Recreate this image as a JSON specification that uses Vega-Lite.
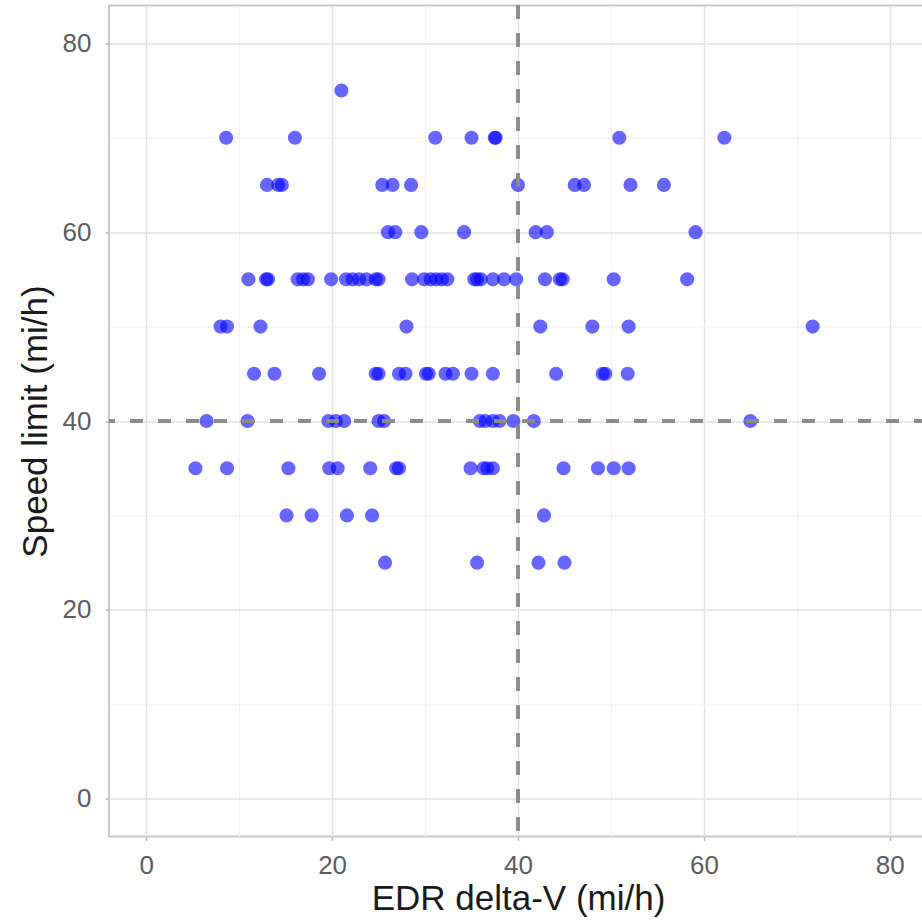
{
  "$schema": "https://vega.github.io/schema/vega-lite/v6.json",
  "width": 818,
  "height": 831,
  "autosize": "none",
  "padding": {"left": 109, "top": 5.5, "right": 0, "bottom": 87},
  "background": "white",
  "config": {
    "view": {"stroke": "#c8c8c8", "strokeWidth": 2},
    "axis": {
      "labelFont": "Liberation Sans",
      "titleFont": "Liberation Sans",
      "labelFontSize": 26,
      "titleFontSize": 35,
      "titleFontWeight": "normal",
      "labelColor": "#5c5c5c",
      "titleColor": "#1a1a1a",
      "domain": false,
      "tickColor": "#b8b8b8",
      "tickWidth": 1.5
    }
  },
  "data": {"values": [
    {"dv": 21.0, "limit": 75},
    {"dv": 8.6, "limit": 70}, {"dv": 16.0, "limit": 70}, {"dv": 31.1, "limit": 70}, {"dv": 35.0, "limit": 70}, {"dv": 37.5, "limit": 70}, {"dv": 37.6, "limit": 70}, {"dv": 50.9, "limit": 70}, {"dv": 62.2, "limit": 70},
    {"dv": 13.0, "limit": 65}, {"dv": 14.2, "limit": 65}, {"dv": 14.6, "limit": 65}, {"dv": 25.4, "limit": 65}, {"dv": 26.5, "limit": 65}, {"dv": 28.5, "limit": 65}, {"dv": 40.0, "limit": 65}, {"dv": 46.1, "limit": 65}, {"dv": 47.1, "limit": 65}, {"dv": 52.1, "limit": 65}, {"dv": 55.7, "limit": 65},
    {"dv": 26.0, "limit": 60}, {"dv": 26.8, "limit": 60}, {"dv": 29.6, "limit": 60}, {"dv": 34.2, "limit": 60}, {"dv": 41.9, "limit": 60}, {"dv": 43.1, "limit": 60}, {"dv": 59.1, "limit": 60},
    {"dv": 11.0, "limit": 55}, {"dv": 12.9, "limit": 55}, {"dv": 13.1, "limit": 55}, {"dv": 16.3, "limit": 55}, {"dv": 16.9, "limit": 55}, {"dv": 17.4, "limit": 55}, {"dv": 19.9, "limit": 55}, {"dv": 21.5, "limit": 55}, {"dv": 22.2, "limit": 55}, {"dv": 22.9, "limit": 55}, {"dv": 23.7, "limit": 55}, {"dv": 24.7, "limit": 55}, {"dv": 25.0, "limit": 55}, {"dv": 28.6, "limit": 55}, {"dv": 29.9, "limit": 55}, {"dv": 30.6, "limit": 55}, {"dv": 31.2, "limit": 55}, {"dv": 31.8, "limit": 55}, {"dv": 32.4, "limit": 55}, {"dv": 35.3, "limit": 55}, {"dv": 35.6, "limit": 55}, {"dv": 36.0, "limit": 55}, {"dv": 37.3, "limit": 55}, {"dv": 38.5, "limit": 55}, {"dv": 39.8, "limit": 55}, {"dv": 42.9, "limit": 55}, {"dv": 44.5, "limit": 55}, {"dv": 44.8, "limit": 55}, {"dv": 50.3, "limit": 55}, {"dv": 58.2, "limit": 55},
    {"dv": 8.0, "limit": 50}, {"dv": 8.7, "limit": 50}, {"dv": 12.3, "limit": 50}, {"dv": 28.0, "limit": 50}, {"dv": 42.4, "limit": 50}, {"dv": 48.0, "limit": 50}, {"dv": 51.9, "limit": 50}, {"dv": 71.7, "limit": 50},
    {"dv": 11.6, "limit": 45}, {"dv": 13.8, "limit": 45}, {"dv": 18.6, "limit": 45}, {"dv": 24.7, "limit": 45}, {"dv": 25.0, "limit": 45}, {"dv": 27.2, "limit": 45}, {"dv": 27.9, "limit": 45}, {"dv": 30.1, "limit": 45}, {"dv": 30.4, "limit": 45}, {"dv": 32.2, "limit": 45}, {"dv": 33.0, "limit": 45}, {"dv": 35.0, "limit": 45}, {"dv": 37.3, "limit": 45}, {"dv": 44.1, "limit": 45}, {"dv": 49.1, "limit": 45}, {"dv": 49.4, "limit": 45}, {"dv": 51.8, "limit": 45},
    {"dv": 6.5, "limit": 40}, {"dv": 10.9, "limit": 40}, {"dv": 19.6, "limit": 40}, {"dv": 20.4, "limit": 40}, {"dv": 21.3, "limit": 40}, {"dv": 25.0, "limit": 40}, {"dv": 25.6, "limit": 40}, {"dv": 35.9, "limit": 40}, {"dv": 36.5, "limit": 40}, {"dv": 37.3, "limit": 40}, {"dv": 38.0, "limit": 40}, {"dv": 39.5, "limit": 40}, {"dv": 41.7, "limit": 40}, {"dv": 65.0, "limit": 40},
    {"dv": 5.3, "limit": 35}, {"dv": 8.7, "limit": 35}, {"dv": 15.3, "limit": 35}, {"dv": 19.7, "limit": 35}, {"dv": 20.6, "limit": 35}, {"dv": 24.1, "limit": 35}, {"dv": 26.9, "limit": 35}, {"dv": 27.2, "limit": 35}, {"dv": 34.9, "limit": 35}, {"dv": 36.3, "limit": 35}, {"dv": 36.7, "limit": 35}, {"dv": 37.3, "limit": 35}, {"dv": 44.9, "limit": 35}, {"dv": 48.6, "limit": 35}, {"dv": 50.3, "limit": 35}, {"dv": 51.9, "limit": 35},
    {"dv": 15.1, "limit": 30}, {"dv": 17.8, "limit": 30}, {"dv": 21.6, "limit": 30}, {"dv": 24.3, "limit": 30}, {"dv": 42.8, "limit": 30},
    {"dv": 25.7, "limit": 25}, {"dv": 35.6, "limit": 25}, {"dv": 42.2, "limit": 25}, {"dv": 45.0, "limit": 25}
  ]},
  "layer": [
    {
      "mark": {"type": "circle", "size": 200, "color": "#0000ff", "opacity": 0.6},
      "encoding": {
        "x": {
          "field": "dv", "type": "quantitative",
          "scale": {"domain": [-4, 84], "nice": false, "zero": false},
          "axis": {
            "title": "EDR delta-V (mi/h)",
            "values": [0, 10, 20, 30, 40, 50, 60, 70, 80],
            "labelExpr": "datum.value % 20 === 0 ? datum.label : ''",
            "grid": true,
            "gridColor": {"condition": {"test": "datum.value % 20 === 0", "value": "#e2e2e2"}, "value": "#efefef"},
            "gridWidth": {"condition": {"test": "datum.value % 20 === 0", "value": 1.4}, "value": 0.9},
            "tickSize": {"condition": {"test": "datum.value % 20 === 0", "value": 4}, "value": 0},
            "labelPadding": 12,
            "titlePadding": 3
          }
        },
        "y": {
          "field": "limit", "type": "quantitative",
          "scale": {"domain": [-4, 84], "nice": false, "zero": false},
          "axis": {
            "title": "Speed limit (mi/h)",
            "values": [0, 10, 20, 30, 40, 50, 60, 70, 80],
            "labelExpr": "datum.value % 20 === 0 ? datum.label : ''",
            "grid": true,
            "gridColor": {"condition": {"test": "datum.value % 20 === 0", "value": "#e2e2e2"}, "value": "#efefef"},
            "gridWidth": {"condition": {"test": "datum.value % 20 === 0", "value": 1.4}, "value": 0.9},
            "tickSize": {"condition": {"test": "datum.value % 20 === 0", "value": 4}, "value": 0},
            "labelPadding": 14,
            "titlePadding": 9
          }
        }
      }
    },
    {
      "mark": {"type": "rule", "color": "#8c8c8c", "strokeWidth": 2.5, "strokeDash": [13, 15]},
      "encoding": {"x": {"datum": 40}}
    },
    {
      "mark": {"type": "rule", "color": "#8c8c8c", "strokeWidth": 2.5, "strokeDash": [13, 15]},
      "encoding": {"y": {"datum": 40}}
    }
  ]
}
